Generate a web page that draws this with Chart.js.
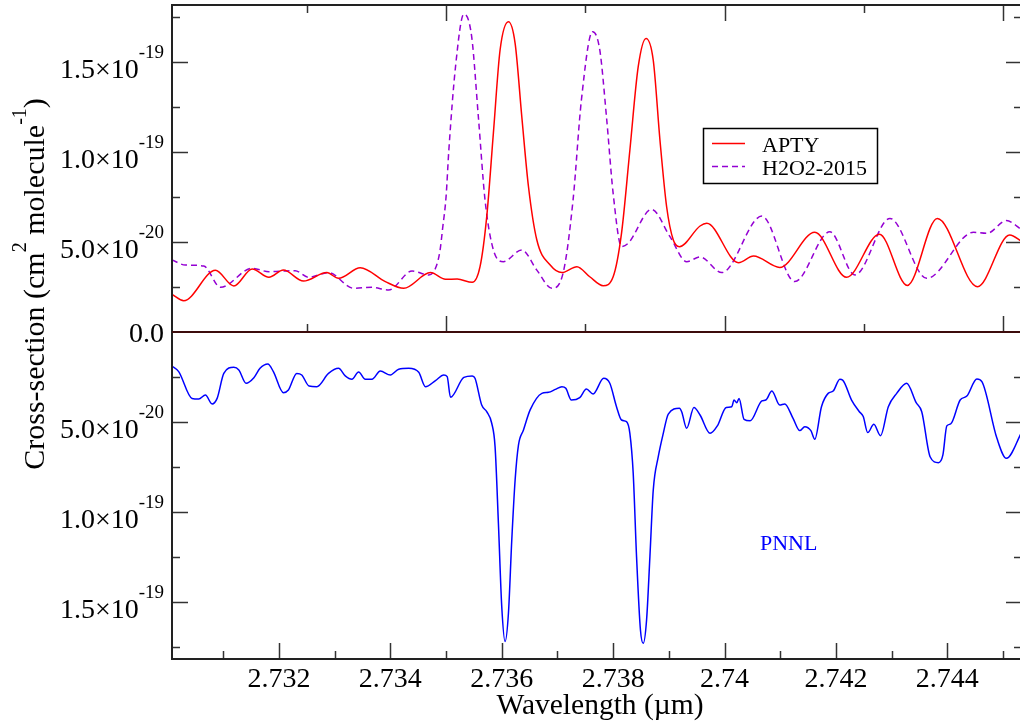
<!DOCTYPE html>
<html><head><meta charset="utf-8">
<script src="https://cdn.jsdelivr.net/npm/chart.js@4.4.1/dist/chart.umd.min.js"></script>
<style>
html,body{margin:0;padding:0;background:#fff;overflow:hidden;width:1020px;height:728px;}
#wrap{position:relative;width:1020px;height:728px;overflow:hidden;background:#fff;}
canvas{position:absolute;left:0;top:0;}
</style></head><body>
<div id="wrap"><canvas id="topc" width="1040" height="728"></canvas><canvas id="botc" width="1040" height="728"></canvas></div>
<script>
// ---- data (cross-section in units of 1e-20 cm^2 molecule^-1, wavelength in µm) ----
const aptyWl = [2.73008,2.73029,2.73086,2.73119,2.73152,2.73182,2.73208,2.73244,2.73286,2.73307,2.73346,2.73391,2.73424,2.73472,2.73499,2.73520,2.73547,2.73561,2.73573,2.73585,2.73597,2.73612,2.73624,2.73636,2.73648,2.73663,2.73687,2.73708,2.73735,2.73758,2.73782,2.73800,2.73815,2.73830,2.73845,2.73859,2.73872,2.73884,2.73896,2.73908,2.73919,2.73956,2.73968,2.74025,2.74052,2.74099,2.74162,2.74219,2.74278,2.74328,2.74382,2.74454,2.74512,2.74534];
const aptyVal = [2.09,1.74,3.43,2.56,3.5,3.04,3.44,2.83,3.3,2.98,3.57,2.8,2.43,3.3,2.93,2.94,2.76,3.63,6.4,11.06,15.67,17.24,16.04,11.96,8.07,5.11,3.72,3.3,3.63,3.07,2.57,3.07,5.48,10.1,14.74,16.31,15.1,10.67,6.96,5.11,4.74,5.89,6.04,3.85,4.22,3.59,5.54,3.04,5.43,2.59,6.31,2.52,5.39,5.02];

const h2o2Wl = [2.73008,2.73032,2.73065,2.73095,2.73152,2.73182,2.73229,2.73253,2.73289,2.73334,2.73367,2.73397,2.73439,2.73469,2.73481,2.73489,2.73494,2.73500,2.73505,2.73517,2.73532,2.73546,2.73558,2.73570,2.73585,2.73603,2.73636,2.73663,2.73690,2.73710,2.73728,2.73743,2.73763,2.73776,2.73788,2.73800,2.73815,2.73827,2.73869,2.73902,2.73932,2.73956,2.73995,2.74067,2.74126,2.74189,2.74234,2.74297,2.74363,2.74447,2.74471,2.74506,2.74534];
const h2o2Val = [4.0,3.72,3.67,2.48,3.54,3.35,3.41,3.04,3.3,2.43,2.48,2.33,3.39,3.17,3.54,4.5,5.8,7.5,10.1,14.74,17.67,16.41,11.96,7.33,4.56,3.91,4.56,3.44,2.43,3.26,7.33,12.89,16.69,15.67,11.96,7.7,4.75,4.93,6.81,5.3,3.91,4.17,3.3,6.44,2.8,5.57,3.17,6.31,2.98,5.54,5.48,6.19,5.67];

const pnnlWl = [2.73008,2.73020,2.73044,2.73056,2.73068,2.73080,2.73089,2.73101,2.73119,2.73128,
2.73141,2.73155,2.73166,2.73180,2.73190,2.73208,2.73217,2.73232,2.73241,2.73254,
2.73268,2.73289,2.73307,2.73319,2.73331,2.73343,2.73355,2.73367,2.73382,2.73400,
2.73415,2.73433,2.73451,2.73463,2.73481,2.73496,2.73502,2.73508,2.73532,2.73547,
2.73552,2.73564,2.73573,2.73582,2.73588,2.73594,2.73600,2.73606,2.73612,2.73618,
2.73624,2.73630,2.73639,2.73651,2.73672,2.73684,2.73696,2.73708,2.73715,2.73725,
2.73740,2.73752,2.73764,2.73783,2.73794,2.73806,2.73815,2.73824,2.73830,2.73836,
2.73842,2.73849,2.73854,2.73860,2.73866,2.73872,2.73881,2.73890,2.73899,2.73919,
2.73923,2.73932,2.73945,2.73956,2.73974,2.73987,2.74003,2.74013,2.74017,2.74022,
2.74026,2.74035,2.74046,2.74067,2.74074,2.74085,2.74099,2.74108,2.74123,2.74135,
2.74144,2.74155,2.74162,2.74174,2.74186,2.74195,2.74207,2.74212,2.74228,2.74242,
2.74249,2.74257,2.74268,2.74280,2.74294,2.74309,2.74327,2.74344,2.74354,2.74369,
2.74384,2.74392,2.74399,2.74406,2.74423,2.74435,2.74453,2.74462,2.74489,2.74506,
2.74534];
const pnnlVal = [1.89,2.2,3.69,3.72,3.5,4.0,3.69,2.3,1.96,2.11,
2.85,2.54,2.02,1.78,2.2,3.37,3.22,2.3,2.39,3.0,
3.04,2.3,2.02,2.44,2.63,2.22,2.63,2.63,2.17,2.39,
2.07,2.02,2.24,3.04,2.7,2.39,2.48,3.63,2.52,2.44,
2.57,4.06,4.43,5.07,6.37,10.63,15.26,17.2,15.63,11.56,
8.22,6.28,5.44,4.33,3.41,3.35,3.19,3.04,3.13,3.78,
3.65,3.17,3.44,2.57,2.85,4.15,4.89,4.98,5.63,7.85,
12.48,16.56,17.3,16.0,12.48,8.78,6.93,5.63,4.56,4.24,
4.43,5.35,4.2,4.61,5.63,5.22,4.19,4.15,3.78,3.93,
3.69,4.85,4.93,3.83,3.78,3.28,4.06,4.0,4.8,5.48,
5.26,5.48,5.96,4.15,3.41,3.28,2.63,2.67,3.78,4.43,
4.7,5.59,5.13,5.76,4.15,3.41,2.85,3.93,4.43,6.93,
7.26,6.83,5.22,5.11,3.78,3.56,2.61,2.76,5.91,7.02,
5.54];

// ---- axes / ticks ----
const xMin = 2.73008, xMax = 2.74534;
const yMin = 0, yMax = 18.17;
const yMajorTicks = [0, 5, 10, 15];
const yMinorTicks = [2.5, 7.5, 12.5, 17.5];
const yTickMain = ['0.0', '5.0\u00d710', '1.0\u00d710', '1.5\u00d710'];
const yTickExp  = ['', '-20', '-19', '-19'];
const topXMajor = [2.735, 2.74, 2.745];
const topXMinor = [2.7325, 2.7375, 2.7425];
const botXMajor = [2.732, 2.734, 2.736, 2.738, 2.74, 2.742, 2.744];
const botXMinor = [2.731, 2.733, 2.735, 2.737, 2.739, 2.741, 2.743, 2.745];
const botXLabels = ['2.732', '2.734', '2.736', '2.738', '2.74', '2.742', '2.744'];
const seriesNames = ['APTY', 'H2O2-2015', 'PNNL'];
const xTitle = 'Wavelength (\u00b5m)';

const FONT = '"Liberation Serif","Times New Roman",serif';
const TICK_COL = '#333';
const FRAME_COL = '#222';

function pts(w, v) { return w.map((x, i) => ({x: x, y: v[i]})); }

function drawParts(ctx, parts, x, y, align, mainSize, supSize, raise) {
  let total = 0;
  parts.forEach(p => { ctx.font = (p.sup ? supSize : mainSize) + 'px ' + FONT; p.w = ctx.measureText(p.t).width; total += p.w; });
  let cx = align === 'right' ? x - total : (align === 'center' ? x - total / 2 : x);
  ctx.textAlign = 'left'; ctx.textBaseline = 'alphabetic';
  parts.forEach(p => {
    ctx.font = (p.sup ? supSize : mainSize) + 'px ' + FONT;
    ctx.fillText(p.t, cx, p.sup ? y - raise : y);
    cx += p.w;
  });
}

function yTicks(ctx, sc, area, vals, len) {
  vals.forEach(v => {
    const py = Math.round(sc.getPixelForValue(v)) + 0.5;
    ctx.beginPath(); ctx.moveTo(area.left, py); ctx.lineTo(area.left + len, py); ctx.stroke();
    ctx.beginPath(); ctx.moveTo(area.right, py); ctx.lineTo(area.right - len, py); ctx.stroke();
  });
}
function xTicks(ctx, sc, edge, dir, vals, len) {
  vals.forEach(v => {
    const px = Math.round(sc.getPixelForValue(v)) + 0.5;
    ctx.beginPath(); ctx.moveTo(px, edge); ctx.lineTo(px, edge + dir * len); ctx.stroke();
  });
}

const topDecor = {
  id: 'topDecor',
  afterDraw(chart) {
    const ctx = chart.ctx, a = chart.chartArea, xs = chart.scales.x, ys = chart.scales.y;
    ctx.save();
    ctx.strokeStyle = TICK_COL; ctx.lineWidth = 1.5;
    yTicks(ctx, ys, a, yMajorTicks.slice(1), 16);
    yTicks(ctx, ys, a, yMinorTicks, 8);
    xTicks(ctx, xs, a.top, 1, topXMajor, 16);
    xTicks(ctx, xs, a.top, 1, topXMinor, 8);
    xTicks(ctx, xs, a.bottom, -1, topXMajor, 16);
    xTicks(ctx, xs, a.bottom, -1, topXMinor, 8);
    ctx.strokeStyle = FRAME_COL; ctx.lineWidth = 2;
    ctx.beginPath(); ctx.moveTo(a.left, a.bottom); ctx.lineTo(a.left, a.top); ctx.lineTo(a.right, a.top); ctx.lineTo(a.right, a.bottom); ctx.stroke();
    ctx.fillStyle = '#000';
    yMajorTicks.forEach((v, i) => {
      const py = ys.getPixelForValue(v);
      if (i === 0) drawParts(ctx, [{t: yTickMain[i]}], 164, py + 10, 'right', 28, 19, 20);
      else drawParts(ctx, [{t: yTickMain[i]}, {t: yTickExp[i], sup: true}], 164, py + 16, 'right', 28, 19, 20);
    });
    // legend
    ctx.lineWidth = 1.5; ctx.strokeStyle = '#000';
    ctx.strokeRect(703.5, 128.5, 174, 55);
    const ds = chart.data.datasets;
    ctx.strokeStyle = ds[0].borderColor; ctx.setLineDash([]);
    ctx.beginPath(); ctx.moveTo(712, 143.5); ctx.lineTo(745, 143.5); ctx.stroke();
    ctx.strokeStyle = ds[1].borderColor; ctx.setLineDash(ds[1].borderDash);
    ctx.beginPath(); ctx.moveTo(712, 166.5); ctx.lineTo(745, 166.5); ctx.stroke();
    ctx.setLineDash([]);
    ctx.font = '22px ' + FONT; ctx.fillStyle = '#000'; ctx.textAlign = 'left'; ctx.textBaseline = 'alphabetic';
    ctx.fillText(ds[0].label, 762, 152);
    ctx.fillText(ds[1].label, 762, 175);
    // y title
    ctx.save();
    ctx.translate(44, 284); ctx.rotate(-Math.PI / 2);
    drawParts(ctx, [{t: 'Cross-section (cm'}, {t: '2', sup: true}, {t: ' molecule'}, {t: '-1', sup: true}, {t: ')'}], 0, 0, 'center', 30, 20, 18);
    ctx.restore();
    ctx.restore();
  }
};

const botDecor = {
  id: 'botDecor',
  afterDraw(chart) {
    const ctx = chart.ctx, a = chart.chartArea, xs = chart.scales.x, ys = chart.scales.y;
    ctx.save();
    ctx.strokeStyle = TICK_COL; ctx.lineWidth = 1.5;
    yTicks(ctx, ys, a, yMajorTicks.slice(1), 16);
    yTicks(ctx, ys, a, yMinorTicks, 8);
    xTicks(ctx, xs, a.bottom, -1, botXMajor, 16);
    xTicks(ctx, xs, a.bottom, -1, botXMinor, 8);
    ctx.strokeStyle = FRAME_COL; ctx.lineWidth = 2;
    ctx.beginPath(); ctx.moveTo(a.left, a.top); ctx.lineTo(a.left, a.bottom); ctx.lineTo(a.right, a.bottom); ctx.lineTo(a.right, a.top); ctx.stroke();
    ctx.strokeStyle = '#3c0c0c';
    ctx.beginPath(); ctx.moveTo(a.left, a.top); ctx.lineTo(a.right, a.top); ctx.stroke();
    ctx.fillStyle = '#000';
    yMajorTicks.forEach((v, i) => {
      if (i === 0) return;
      const py = ys.getPixelForValue(v);
      drawParts(ctx, [{t: yTickMain[i]}, {t: yTickExp[i], sup: true}], 164, py + 16, 'right', 28, 19, 20);
    });
    ctx.font = '28px ' + FONT; ctx.textAlign = 'center'; ctx.textBaseline = 'alphabetic';
    botXMajor.forEach((v, i) => { ctx.fillText(botXLabels[i], xs.getPixelForValue(v), a.bottom + 28); });
    ctx.font = '29.5px ' + FONT;
    ctx.fillText(xTitle, 600, 714);
    ctx.font = '22px ' + FONT; ctx.fillStyle = chart.data.datasets[0].borderColor; ctx.textAlign = 'left';
    ctx.fillText(chart.data.datasets[0].label, 760, 550);
    ctx.restore();
  }
};

function scalesCfg(reverse) {
  return {
    x: {type: 'linear', min: xMin, max: xMax, display: false},
    y: {type: 'linear', min: yMin, max: yMax, reverse: reverse, display: false}
  };
}
const common = {responsive: false, animation: false, devicePixelRatio: 1,
  plugins: {legend: {display: false}, tooltip: {enabled: false}}, events: []};

new Chart(document.getElementById('topc'), {
  type: 'scatter',
  data: {datasets: [
    {label: seriesNames[0], data: pts(aptyWl, aptyVal), showLine: true, borderColor: '#ff0000', borderWidth: 1.5, pointRadius: 0, cubicInterpolationMode: 'monotone'},
    {label: seriesNames[1], data: pts(h2o2Wl, h2o2Val), showLine: true, borderColor: '#9400d3', borderWidth: 1.5, borderDash: [6, 4], pointRadius: 0, cubicInterpolationMode: 'monotone'}
  ]},
  options: Object.assign({}, common, {layout: {padding: {left: 172, top: 5, right: 18, bottom: 396}}, scales: scalesCfg(false)}),
  plugins: [topDecor]
});

new Chart(document.getElementById('botc'), {
  type: 'scatter',
  data: {datasets: [
    {label: seriesNames[2], data: pts(pnnlWl, pnnlVal), showLine: true, borderColor: '#0000ff', borderWidth: 1.5, pointRadius: 0, cubicInterpolationMode: 'monotone'}
  ]},
  options: Object.assign({}, common, {layout: {padding: {left: 172, top: 332, right: 18, bottom: 69}}, scales: scalesCfg(true)}),
  plugins: [botDecor]
});
</script>
</body></html>
